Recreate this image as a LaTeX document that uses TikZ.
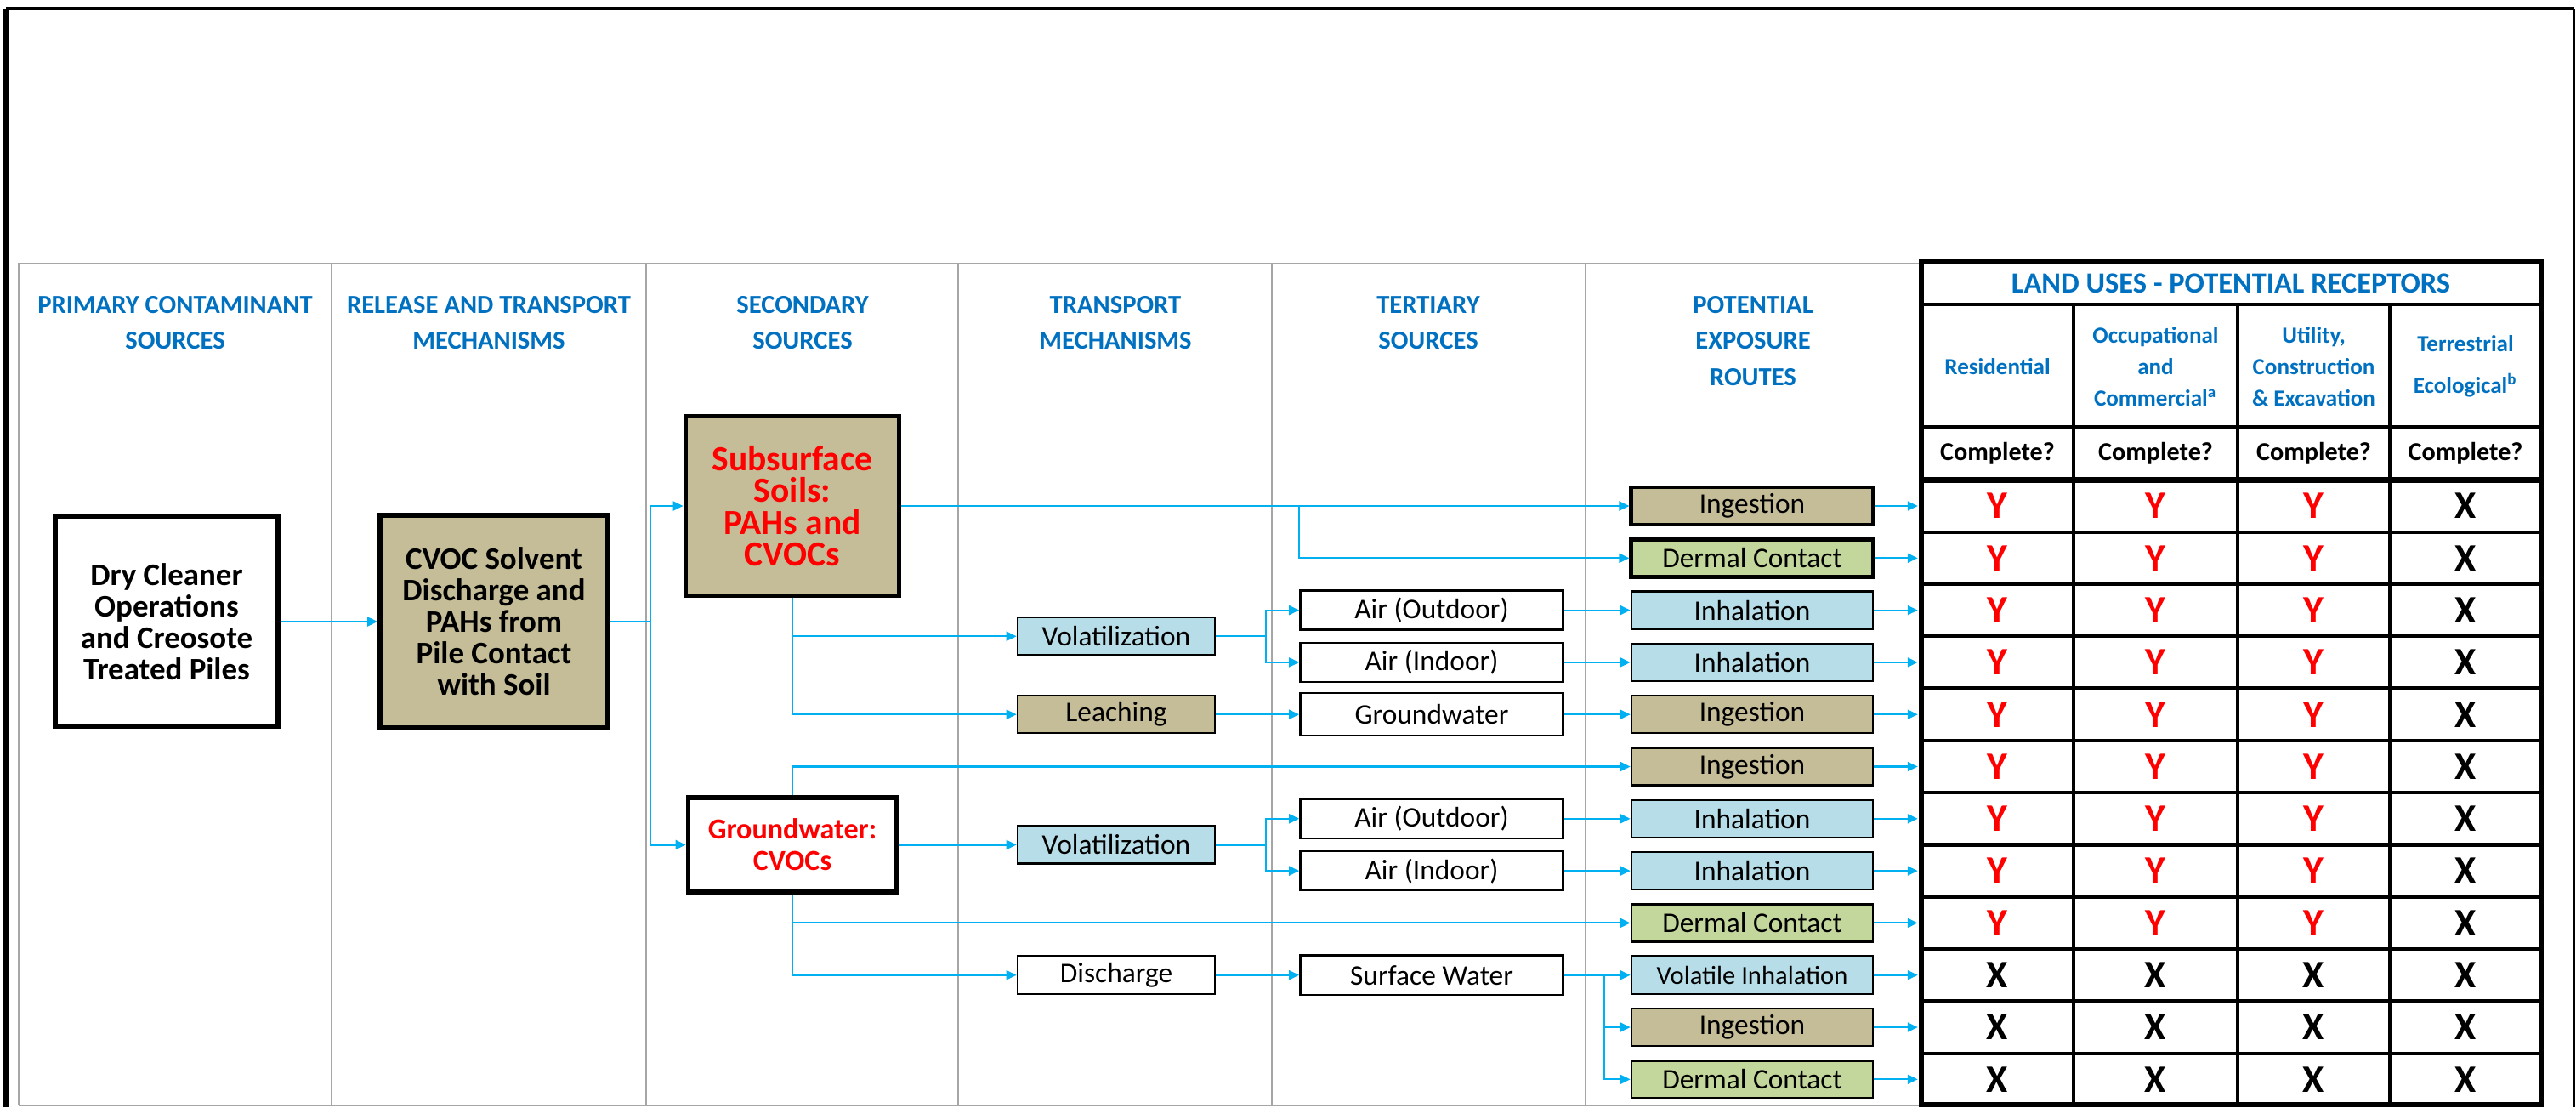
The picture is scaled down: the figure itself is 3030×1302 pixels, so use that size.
\documentclass[tikz,border=0pt]{standalone}
\usepackage{fontspec}
\setmainfont{Carlito}
\usetikzlibrary{arrows.meta,positioning,calc}
\definecolor{hdrblue}{HTML}{0070C0}
\definecolor{flow}{HTML}{00B0F0}
\definecolor{soiltan}{HTML}{C4BD97}
\definecolor{airblue}{HTML}{B7DEE8}
\definecolor{skingreen}{HTML}{C3D69B}
\definecolor{rulegray}{HTML}{A6A6A6}

\begin{document}
\begin{tikzpicture}[x=0.01cm, y=-0.01cm,
  colhead/.style={font=\fontsize{8.7}{12}\selectfont\bfseries, text=hdrblue, align=center, anchor=north, inner sep=0pt},
  bigbox/.style={draw, fill=white, line width=1.6pt, align=center, inner sep=0pt, font=\fontsize{10.5}{10.5}\selectfont\bfseries},
  midbox/.style={draw, fill=white, line width=0.7pt, minimum width=2.32cm, minimum height=0.44cm, inner sep=0pt, font=\fontsize{9.5}{11}\selectfont},
  terbox/.style={midbox, minimum width=3.09cm, minimum height=0.46cm},
  expbox/.style={midbox, minimum width=2.84cm},
  rechead/.style={font=\fontsize{7.7}{10.5}\selectfont\bfseries, text=hdrblue, align=center, inner sep=0pt},
  cell/.style={inner sep=0pt, minimum height=0.613cm, font=\fontsize{13}{13}\selectfont\bfseries},
  flowline/.style={flow, line width=0.6pt},
  arr/.style={flowline, -{Triangle[length=1.2mm, width=1.1mm]}},
  tabline/.style={line width=1.2pt}
]
\useasboundingbox (0,0) rectangle (3030,1302);
% frame and columns
\draw[line width=1.7pt] (7,1302) -- (7,10);
\draw[line width=1.2pt] (7,10) -- (3028,10);
\draw[line width=0.5pt] (3028,10) -- (3028,1302);
\draw[rulegray, line width=0.8pt] (22,1300) -- (22,310) -- (2260,310);
\draw[rulegray, line width=0.6pt] (22,1300) -- (2260,1300);
\foreach \xx in {390,760,1127,1496,1865} \draw[rulegray, line width=0.8pt] (\xx,310) -- (\xx,1300);
\foreach \cx/\txt [count=\k] in {206/{PRIMARY CONTAMINANT\\SOURCES}, 575/{RELEASE AND TRANSPORT\\MECHANISMS},
    944/{SECONDARY\\SOURCES}, 1312/{TRANSPORT\\MECHANISMS}, 1680/{TERTIARY\\SOURCES}, 2062/{POTENTIAL\\EXPOSURE\\ROUTES}}
  \node[colhead] (h\k) at (\cx,348) {\txt};

% sources
\node[bigbox, minimum width=2.62cm, minimum height=2.47cm] (dry) at (196,731) {Dry Cleaner\\Operations\\and Creosote\\Treated Piles};
\node[bigbox, fill=soiltan, minimum width=2.68cm, minimum height=2.5cm] (cvoc) at (581,731) {CVOC Solvent\\Discharge and\\PAHs from\\Pile Contact\\with Soil};
\node[bigbox, fill=soiltan, text=red, minimum width=2.51cm, minimum height=2.11cm, font=\fontsize{11.8}{10.6}\selectfont\bfseries] (sub) at (932,595) {Subsurface\\Soils:\\PAHs and\\CVOCs};
\node[bigbox, text=red, minimum width=2.45cm, minimum height=1.11cm, font=\fontsize{9.7}{10.5}\selectfont\bfseries] (gw) at (932,993.45) {Groundwater:\\CVOCs};

% transport and tertiary
\node[midbox, fill=airblue] (vol1) at (1313,748.25) {Volatilization};
\node[midbox, fill=soiltan] (leach) at (1313,{595+61.3*4}) {Leaching};
\node[midbox, fill=airblue] (vol2) at (1313,993.45) {Volatilization};
\node[midbox] (dis) at (1313,{595+61.3*9}) {Discharge};
\node[terbox] (airo1) at (1684,{595+61.3*2}) {Air (Outdoor)};
\node[terbox] (airi1) at (1684,{595+61.3*3}) {Air (Indoor)};
\node[terbox, minimum height=0.5cm] (gwt) at (1684,{595+61.3*4}) {Groundwater};
\node[terbox] (airo2) at (1684,{595+61.3*6}) {Air (Outdoor)};
\node[terbox] (airi2) at (1684,{595+61.3*7}) {Air (Indoor)};
\node[terbox] (sw) at (1684,{595+61.3*9}) {Surface Water};

\foreach \i/\txt/\fc/\lw in {0/Ingestion/soiltan/1.4pt, 1/Dermal Contact/skingreen/1.4pt, 2/Inhalation/airblue/0.7pt,
    3/Inhalation/airblue/0.7pt, 4/Ingestion/soiltan/0.7pt, 5/Ingestion/soiltan/0.7pt, 6/Inhalation/airblue/0.7pt,
    7/Inhalation/airblue/0.7pt, 8/Dermal Contact/skingreen/0.7pt, 9/{\fontsize{8.7}{10}\selectfont Volatile Inhalation}/airblue/0.7pt,
    10/Ingestion/soiltan/0.7pt, 11/Dermal Contact/skingreen/0.7pt}
  \node[expbox, fill=\fc, line width=\lw] (e\i) at (2061,{595+61.3*\i}) {\txt};

% receptor table
\draw[line width=1.9pt] (2260,308) rectangle (2989,1299);
\foreach \yy in {358,502} \draw[tabline] (2260,\yy) -- (2989,\yy);
\draw[line width=1.8pt] (2260,564.35) -- (2989,564.35);
\foreach \i in {1,...,11} \draw[tabline] (2260,{564.35+61.3*\i}) -- (2989,{564.35+61.3*\i});
\foreach \xx in {2439,2632,2811} \draw[tabline] (\xx,358) -- (\xx,1299);
\node[font=\fontsize{9.8}{12}\selectfont\bfseries, text=hdrblue] (ttl) at (2624,333) {LAND USES - POTENTIAL RECEPTORS};
\node[rechead] (r1) at (2349.5,431) {Residential};
\node[rechead] (r2) at (2535.5,431) {Occupational\\and\\Commercial\textsuperscript{a}};
\node[rechead] (r3) at (2721.5,431) {Utility,\\Construction\\\& Excavation};
\node[rechead] (r4) at (2900,431) {Terrestrial\\[3.5pt]Ecological\textsuperscript{b}};
\foreach \j/\cx in {1/2349.5, 2/2535.5, 3/2721.5, 4/2900}
  \node[font=\fontsize{8.6}{10}\selectfont\bfseries] (q\j) at (\cx,533) {Complete?};
\foreach \i in {0,...,11}
  \foreach \j/\cx/\cw in {1/2349.5/1.79, 2/2535.5/1.93, 3/2721.5/1.79, 4/2900/1.78}{
    \ifnum\i<9 \ifnum\j<4 \def\mk{\textcolor{red}{Y}}\else\def\mk{X}\fi\else\def\mk{X}\fi
    \node[cell, minimum width=\cw cm] (c\i-\j) at (\cx,{595+61.3*\i}) {\mk};
  }

% pathways
\draw[arr] (dry) -- (cvoc);
\coordinate (s1) at (765,731);
\draw[flowline] (cvoc) -- (s1);
\draw[arr] (s1) |- (sub.west);
\draw[arr] (s1) |- (gw.west);
\draw[arr] (sub) -- (e0);
\draw[arr] (sub.east -| airo1.west) |- (e1.west);
\draw[arr] (sub.south) |- (vol1.west);
\draw[arr] (sub.south) |- (leach.west);
\draw[flowline] (vol1.east) -- ++(59,0) coordinate (s2);
\draw[arr] (s2) |- (airo1.west);
\draw[arr] (s2) |- (airi1.west);
\draw[arr] (leach) -- (gwt);
\draw[arr] (airo1) -- (e2);
\draw[arr] (airi1) -- (e3);
\draw[arr] (gwt) -- (e4);
\draw[arr] (gw.north) |- (e5.west);
\draw[arr] (gw) -- (vol2);
\draw[flowline] (vol2.east) -- ++(59,0) coordinate (s3);
\draw[arr] (s3) |- (airo2.west);
\draw[arr] (s3) |- (airi2.west);
\draw[arr] (airo2) -- (e6);
\draw[arr] (airi2) -- (e7);
\draw[arr] (gw.south) |- (e8.west);
\draw[arr] (gw.south) |- (dis.west);
\draw[arr] (dis) -- (sw);
\draw[arr] (sw) -- (e9);
\path (sw.east) -- ++(47,0) coordinate (s4);
\draw[arr] (s4) |- (e10.west);
\draw[arr] (s4) |- (e11.west);
\foreach \i in {0,...,11} \draw[arr, shorten >=1pt] (e\i) -- (c\i-1);
\end{tikzpicture}
\end{document}
